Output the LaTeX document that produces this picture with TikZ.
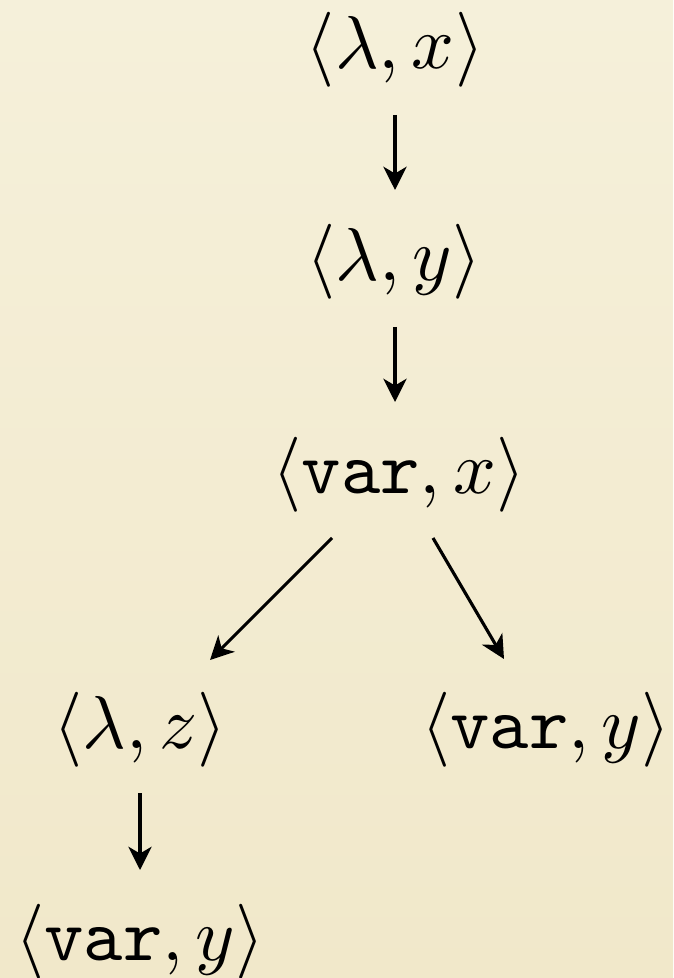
\documentclass[tikz,border=0pt]{standalone}
\usetikzlibrary{arrows.meta,calc}
\definecolor{bgtop}{RGB}{245,240,218}
\definecolor{bgbot}{RGB}{241,232,202}
\tikzset{
  term/.style={inner sep=0pt, outer sep=0pt, font=\normalsize},
  arr/.style={line width=0.42pt, -{Stealth[length=3.1pt,width=3.1pt,inset=0.9pt]}}
}
\begin{document}
\begin{tikzpicture}[x=0.1333pt,y=-0.1333pt]
\shade[top color=bgtop,bottom color=bgbot] (0,0) rectangle (673,978);
\useasboundingbox (0,0) rectangle (673,978);
\node[term] (n1) at (395,50) {$\langle \lambda, x\rangle$};
\node[term] (n2) at (394,262) {$\langle \lambda, y\rangle$};
\node[term] (n3) at (399,475) {$\langle \texttt{var}, x\rangle$};
\node[term] (n4) at (140,730) {$\langle \lambda, z\rangle$};
\node[term] (n5) at (546,730) {$\langle \texttt{var}, y\rangle$};
\node[term] (n6) at (140,942) {$\langle \texttt{var}, y\rangle$};
\draw[arr] ($(n1)+(0,65)$) -- ($(n2)+(1,-72)$);
\draw[arr] ($(n2)+(1,65)$) -- ($(n3)+(-4,-73)$);
\draw[arr] ($(n3)+(-67,63)$) -- ($(n4)+(70,-70)$);
\draw[arr] ($(n3)+(34,63)$) -- ($(n5)+(-42,-71)$);
\draw[arr] ($(n4)+(0,63)$) -- ($(n6)+(0,-72)$);
\end{tikzpicture}
\end{document}
